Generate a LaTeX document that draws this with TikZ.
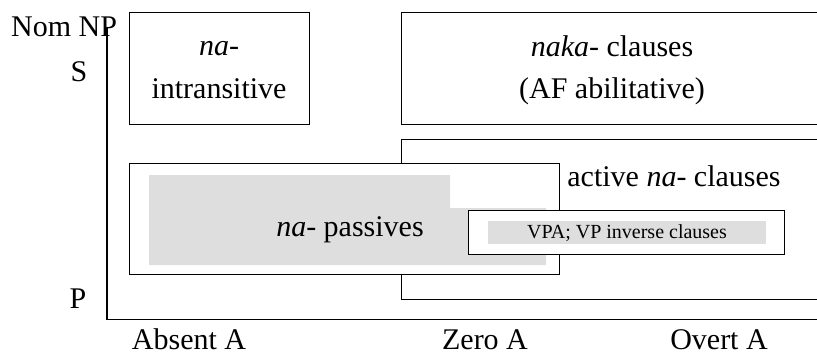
\documentclass[tikz,border=0pt]{standalone}
\usepackage{fontspec}
\setmainfont{Liberation Serif}
\definecolor{boxgray}{RGB}{222,222,222}
\begin{document}
\begin{tikzpicture}[x=1pt,y=-1pt,
  box/.style={draw=black,line width=1.3pt,fill=white,inner sep=0pt,anchor=north west},
  lbl/.style={inner sep=0pt,anchor=base,font=\fontsize{30}{42}\selectfont},
  small/.style={inner sep=0pt,anchor=base,font=\fontsize{20}{24}\selectfont},
  axis/.style={draw=black,line width=1.5pt}]
\useasboundingbox (0,0) rectangle (817,354);
\clip (0,0) rectangle (817,354);
% axes
\coordinate (ytop) at (107,28);
\coordinate (orig) at (107,319.5);
\coordinate (xend) at (830,319.5);
\draw[axis] (ytop) -- (orig) -- (xend);
% top boxes
\node[box,minimum width=180pt,minimum height=112pt] (b1) at (129,12) {};
\node[box,minimum width=430pt,minimum height=112pt] (b2) at (401,12) {};
\node[lbl] (t1a) at (219,55) {\textit{na}-};
\node[lbl] (t1b) at (219,98) {intransitive};
\node[lbl] (t2a) at (612,56) {\textit{naka}- clauses};
\node[lbl] (t2b) at (612,98) {(AF abilitative)};
% active clauses box
\node[box,minimum width=430pt,minimum height=160pt] (b3) at (401,139) {};
\node[lbl] (t3) at (674,186) {active \textit{na}- clauses};
% passives box
\node[box,minimum width=430pt,minimum height=111pt] (b4) at (129,163) {};
\fill[boxgray] (149,175) -- (450,175) -- (450,208) -- (546,208) -- (546,265) -- (149,265) -- cycle;
\node[lbl] (t4) at (350,236) {\textit{na}- passives};
% inverse box
\node[box,minimum width=316pt,minimum height=44pt] (b5) at (468,210) {};
\fill[boxgray] (488,221) rectangle (766,244);
\node[small] (t5) at (627,238) {VPA; VP inverse clauses};
% axis labels
\node[lbl,anchor=base west] (nom) at (11,36) {Nom NP};
\node[lbl] (s) at (79,81) {S};
\node[lbl] (p) at (78,308) {P};
\node[lbl] (xa) at (189,349) {Absent A};
\node[lbl] (xz) at (485,349) {Zero A};
\node[lbl] (xo) at (719,349) {Overt A};
\end{tikzpicture}
\end{document}
